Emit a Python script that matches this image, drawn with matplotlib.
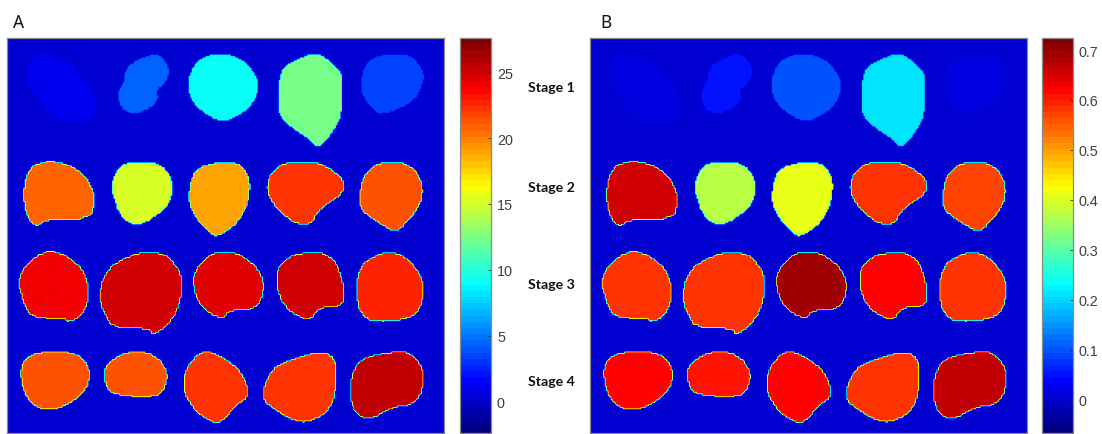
import numpy as np
import matplotlib
matplotlib.use("Agg")
import matplotlib.pyplot as plt
from matplotlib.colors import LinearSegmentedColormap
from matplotlib.path import Path

plt.rcParams["font.family"] = ["Liberation Sans", "DejaVu Sans"]

# mean value of each section, rows are the stages
values_a = [[0.9, 4.2, 9.3, 12.4, 3.6],
            [20.85, 15.3, 19.0, 22.0, 21.2],
            [23.85, 25.2, 24.5, 24.9, 22.9],
            [21.4, 21.4, 22.4, 22.4, 25.7]]
values_b = [[0.015, 0.057, 0.098, 0.216, 0.012],
            [0.650, 0.369, 0.414, 0.588, 0.568],
            [0.588, 0.588, 0.690, 0.615, 0.585],
            [0.615, 0.611, 0.625, 0.582, 0.665]]
background = 0.0

outlines = [
    [(130,162),(170,170),(220,195),(250,235),(280,275),(293,315),(285,350),(270,368),(200,372),(165,362),(130,320),(95,275),(78,240),(82,195),(100,170)],
    [(445,168),(475,165),(500,190),(508,220),(495,255),(470,272),(475,300),(455,325),(410,345),(375,338),(358,315),(350,285),(370,250),(375,215),(395,190)],
    [(630,165),(690,165),(740,190),(770,235),(775,262),(765,305),(725,345),(670,370),(625,352),(580,315),(565,280),(563,240),(585,190)],
    [(940,163),(970,170),(1020,215),(1027,250),(1025,345),(1000,395),(965,440),(945,442),(920,415),(880,390),(840,355),(833,320),(838,225),(860,195),(905,175)],
    [(1160,165),(1230,165),(1270,215),(1270,250),(1240,310),(1145,350),(1115,330),(1085,290),(1080,260),(1090,200),(1120,175)],
    [(130,488),(175,488),(235,510),(270,550),(285,600),(272,660),(140,660),(115,682),(90,670),(72,620),(72,555),(90,505)],
    [(380,490),(460,488),(500,510),(517,550),(515,595),(495,630),(430,675),(390,675),(355,640),(340,590),(332,575),(340,535),(355,505)],
    [(620,495),(690,488),(725,500),(750,540),(745,610),(715,670),(665,705),(640,712),(620,690),(585,655),(565,610),(570,550),(585,515)],
    [(860,490),(950,488),(1000,515),(1032,545),(1025,585),(985,610),(950,640),(935,675),(885,675),(825,625),(800,575),(805,535),(830,505)],
    [(1150,490),(1200,488),(1245,510),(1268,560),(1260,620),(1210,680),(1185,700),(1150,680),(1110,655),(1080,630),(1078,580),(1090,530),(1120,500)],
    [(125,758),(180,758),(235,795),(260,835),(268,900),(240,955),(205,968),(195,958),(95,955),(72,915),(55,850),(70,805)],
    [(420,758),(490,762),(530,800),(545,840),(540,910),(515,965),(460,1010),(445,986),(335,986),(310,935),(297,895),(310,830),(345,790)],
    [(680,756),(730,770),(780,815),(793,870),(770,930),(685,933),(672,958),(630,945),(590,905),(578,845),(590,805),(630,765)],
    [(880,765),(960,758),(1000,780),(1020,820),(1033,875),(1025,922),(955,925),(930,965),(870,940),(835,890),(828,830),(840,795)],
    [(1170,757),(1220,775),(1260,825),(1272,870),(1260,925),(1230,958),(1120,968),(1080,945),(1065,870),(1080,800),(1120,770)],
    [(105,1058),(225,1058),(260,1090),(270,1125),(260,1170),(215,1210),(170,1230),(120,1230),(80,1200),(62,1140),(65,1090)],
    [(380,1058),(440,1058),(480,1080),(502,1120),(498,1160),(470,1195),(345,1187),(320,1165),(312,1130),(315,1100),(345,1075)],
    [(600,1058),(640,1058),(700,1095),(735,1135),(745,1195),(710,1215),(665,1268),(635,1268),(590,1240),(555,1190),(548,1140),(565,1095)],
    [(890,1075),(950,1058),(990,1065),(1008,1090),(1005,1195),(975,1245),(920,1268),(885,1265),(820,1230),(788,1200),(790,1160),(815,1110),(850,1090)],
    [(1210,1055),(1240,1070),(1270,1110),(1268,1170),(1240,1215),(1170,1225),(1115,1258),(1085,1255),(1055,1225),(1050,1150),(1065,1100),(1100,1070)],
]

stage_labels = ["Stage 1", "Stage 2", "Stage 3", "Stage 4"]
cbar_ticks_a = [0, 5, 10, 15, 20, 25]
cbar_ticks_b = [0, 0.1, 0.2, 0.3, 0.4, 0.5, 0.6, 0.7]
limits_a = (-2.4, 27.6)
limits_b = (-0.066, 0.724)

W, H = 1102, 435
FRAME = "#8a8a8a"
TEXT = "#404040"

# MATLAB jet, the anchors differ a bit from the matplotlib one
matlab_jet = {
    "red": [(0, 0, 0), (0.375, 0, 0), (0.625, 1, 1), (0.875, 1, 1), (1, 0.5, 0.5)],
    "green": [(0, 0, 0), (0.125, 0, 0), (0.375, 1, 1), (0.625, 1, 1), (0.875, 0, 0), (1, 0, 0)],
    "blue": [(0, 0.5, 0.5), (0.125, 1, 1), (0.375, 1, 1), (0.625, 0, 0), (1, 0, 0)],
}
cmap = LinearSegmentedColormap("matlab_jet", matlab_jet, N=64)


def px_axes(fig, left, top, right, bottom):
    return fig.add_axes([left / W, 1 - bottom / H, (right - left) / W, (bottom - top) / H])


def smooth(poly, passes=1):
    # corner cutting, the traced outlines are too angular otherwise
    for _ in range(passes):
        nxt = np.roll(poly, -1, axis=0)
        poly = np.column_stack([0.75 * poly + 0.25 * nxt, 0.25 * poly + 0.75 * nxt]).reshape(-1, 2)
    return poly


def build_map(values):
    step = 1.5
    xs = (np.arange(291) + 0.5) * step
    ys = (np.arange(263) + 0.5) * step
    xx, yy = np.meshgrid(xs, ys)
    pts = np.column_stack([xx.ravel(), yy.ravel()])
    grid = np.full(xx.shape, background, dtype=float)
    flat = [v for row in values for v in row]
    for outline, v in zip(outlines, flat):
        poly = smooth(np.array(outline) / 3.0 - [7, 39])
        grid[Path(poly).contains_points(pts).reshape(xx.shape)] = v
    return grid


def draw_panel(fig, left, cb_left, values, limits, ticks, fmt):
    ax = px_axes(fig, left, 39, left + 437, 434)
    im = ax.imshow(build_map(values), cmap=cmap, vmin=limits[0], vmax=limits[1],
                   extent=(0, 441, 500, 0), aspect="auto",
                   interpolation="bilinear", interpolation_stage="data")
    ax.set_xticks([100, 200, 300, 400])
    ax.set_yticks([100, 200, 300, 400])
    ax.tick_params(direction="in", length=1.5, width=0.6, color="#222222",
                   top=True, right=True, labelleft=False, labelbottom=False)
    for s in ax.spines.values():
        s.set_color(FRAME)
        s.set_linewidth(0.9)

    cax = px_axes(fig, cb_left, 39, cb_left + 31, 434)
    cb = fig.colorbar(im, cax=cax)
    cb.set_ticks(ticks)
    cb.set_ticklabels([fmt % t for t in ticks])
    cb.ax.tick_params(direction="in", length=2, width=0.6, color="#222222",
                      labelsize=10.4, labelcolor=TEXT, pad=4.3)
    cb.outline.set_edgecolor(FRAME)
    cb.outline.set_linewidth(0.9)


fig = plt.figure(figsize=(W / 100, H / 100), dpi=100)
draw_panel(fig, 7, 460, values_a, limits_a, cbar_ticks_a, "%d")
draw_panel(fig, 590, 1042, values_b, limits_b, cbar_ticks_b, "%g")

fig.text(13 / W, 1 - 23 / H, "A", family="Noto Sans", fontsize=12.5, va="center", color="#111111")
fig.text(600 / W, 1 - 23 / H, "B", family="Noto Sans", fontsize=12.5, va="center", color="#111111")

stage_y = [88, 188.5, 285, 381.5]
for lab, y in zip(stage_labels, stage_y):
    fig.text(528.5 / W, 1 - y / H, lab, family="Lato", weight="bold", fontsize=10.2,
             va="center", color="#111111")

fig.savefig("out.png", dpi=100)
